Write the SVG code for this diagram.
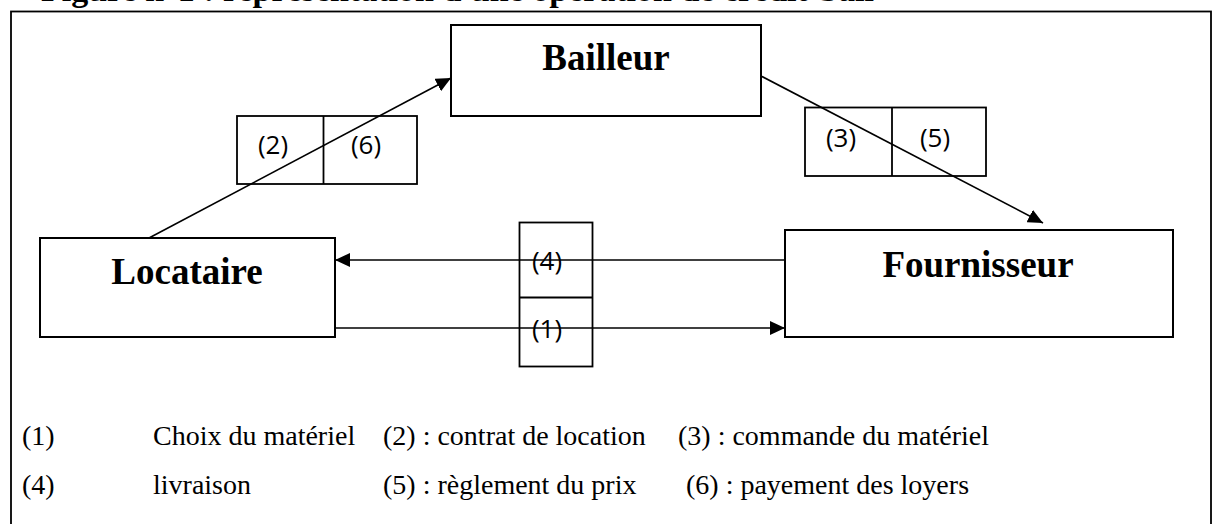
<svg xmlns="http://www.w3.org/2000/svg" width="1213" height="524" viewBox="0 0 1213 524">
<style>
.box{fill:none;stroke:#000;stroke-width:2}
.lbl{fill:none;stroke:#000;stroke-width:1.8}
.node{font-family:"Liberation Serif","Times New Roman",serif;font-weight:bold;font-size:37px;text-anchor:middle;fill:#000}
.num{font-family:"Open Sans","Noto Sans",sans-serif;font-size:26px;text-anchor:middle;fill:#000}
.leg{font-family:"Liberation Serif","Times New Roman",serif;font-size:28px;fill:#000}
.title{font-family:"Liberation Serif","Times New Roman",serif;font-weight:bold;font-size:34px;fill:#000}
.conn{stroke:#000;stroke-width:1.6;fill:none}
</style>
<defs>
<marker id="ah" viewBox="0 0 15 14" refX="15" refY="7" markerWidth="15" markerHeight="14" markerUnits="userSpaceOnUse" orient="auto">
<path d="M0,0 L15,7 L0,14 z" fill="#000"/>
</marker>
</defs>
<rect width="1213" height="524" fill="#fff"/>
<text class="title" x="41" y="0.5">Figure n°1 : représentation d'une opération de crédit-bail</text>
<rect x="11" y="11.5" width="1200" height="530" fill="none" stroke="#000" stroke-width="1.8"/>

<g id="connectors">
<line class="conn" x1="149" y1="238" x2="451" y2="78" marker-end="url(#ah)"/>
<line class="conn" x1="761" y1="76" x2="1043" y2="223" marker-end="url(#ah)"/>
<line class="conn" x1="785" y1="260" x2="335" y2="260" marker-end="url(#ah)"/>
<line class="conn" x1="335" y1="328" x2="785" y2="328" marker-end="url(#ah)"/>
</g>

<g id="node-bailleur">
<rect class="box" x="451" y="25" width="310" height="91"/>
<text class="node" x="606" y="70">Bailleur</text>
</g>
<g id="node-locataire">
<rect class="box" x="40" y="238" width="295" height="99"/>
<text class="node" x="187" y="284">Locataire</text>
</g>
<g id="node-fournisseur">
<rect class="box" x="785" y="230" width="388" height="107"/>
<text class="node" x="978" y="277">Fournisseur</text>
</g>

<g id="label-2-6">
<rect class="lbl" x="237" y="116" width="180" height="68"/>
<line class="lbl" x1="323.5" y1="116" x2="323.5" y2="184"/>
<text class="num" x="273" y="154">(2)</text>
<text class="num" x="366" y="154">(6)</text>
</g>
<g id="label-3-5">
<rect class="lbl" x="805" y="107.5" width="181" height="68.5"/>
<line class="lbl" x1="892" y1="107.5" x2="892" y2="176"/>
<text class="num" x="841" y="147">(3)</text>
<text class="num" x="935" y="147">(5)</text>
</g>
<g id="label-4-1">
<rect class="lbl" x="519.5" y="222.5" width="73" height="144"/>
<line class="lbl" x1="519.5" y1="297.5" x2="592.5" y2="297.5"/>
<text class="num" x="547" y="270">(4)</text>
<text class="num" x="547" y="338">(1)</text>
</g>

<g id="legend">
<text class="leg" x="22" y="445">(1)</text>
<text class="leg" x="153" y="445">Choix du matériel</text>
<text class="leg" x="383" y="445">(2) : contrat de location</text>
<text class="leg" x="678" y="445">(3) : commande du matériel</text>
<text class="leg" x="22" y="494">(4)</text>
<text class="leg" x="153" y="494">livraison</text>
<text class="leg" x="383" y="494">(5) : règlement du prix</text>
<text class="leg" x="686" y="494">(6) : payement des loyers</text>
</g>
</svg>
